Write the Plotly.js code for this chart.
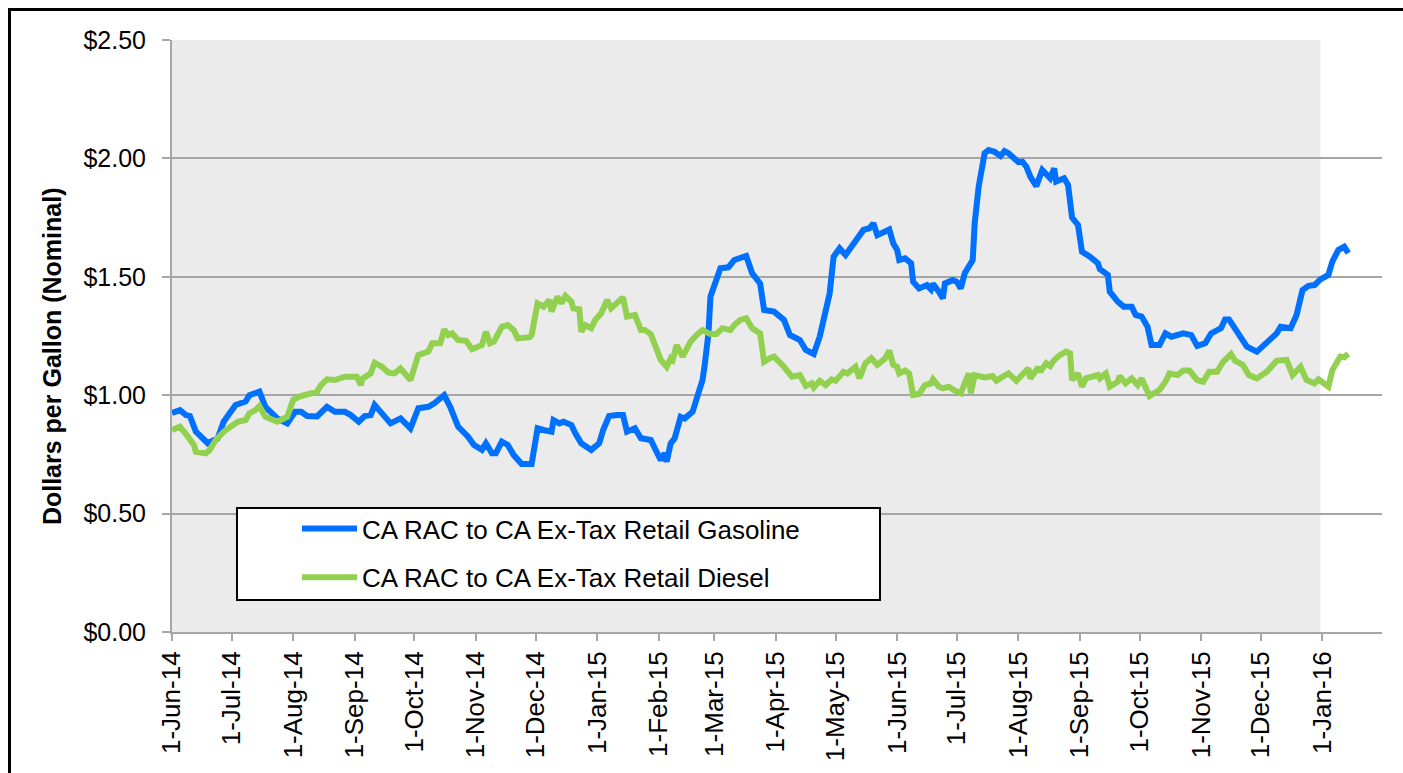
<!DOCTYPE html>
<html>
<head>
<meta charset="utf-8">
<script src="https://cdn.plot.ly/plotly-3.0.1.min.js"></script>
<style>
  body { margin: 0; background: #ffffff; }
  #frame { position: absolute; left: 8px; top: 8px; width: 1500px; height: 900px; border: 3px solid #000; }
  #chart { position: absolute; left: 0; top: 0; width: 1403px; height: 773px; }
</style>
</head>
<body>
<div id="frame"></div>
<div id="chart"></div>
<script>
// CA RAC to CA ex-tax retail margins, dollars per gallon
const gasDates = [
  "2014-06-01", "2014-06-05", "2014-06-08", "2014-06-10", "2014-06-13", "2014-06-16", "2014-06-19", "2014-06-24", "2014-06-27",
  "2014-07-03", "2014-07-08", "2014-07-10", "2014-07-15", "2014-07-18", "2014-07-21", "2014-07-24", "2014-07-29",
  "2014-08-02", "2014-08-05", "2014-08-08", "2014-08-13", "2014-08-18", "2014-08-22", "2014-08-27", "2014-08-30",
  "2014-09-03", "2014-09-06", "2014-09-09", "2014-09-11", "2014-09-14", "2014-09-19", "2014-09-24", "2014-09-29",
  "2014-10-03", "2014-10-08", "2014-10-11", "2014-10-16", "2014-10-19", "2014-10-23", "2014-10-28", "2014-10-31",
  "2014-11-04", "2014-11-06", "2014-11-09", "2014-11-11", "2014-11-14", "2014-11-17", "2014-11-20", "2014-11-24", "2014-11-29",
  "2014-12-02", "2014-12-05", "2014-12-09", "2014-12-10", "2014-12-13", "2014-12-15", "2014-12-19", "2014-12-21", "2014-12-24", "2014-12-29",
  "2015-01-02", "2015-01-04", "2015-01-07", "2015-01-11", "2015-01-14", "2015-01-16", "2015-01-20", "2015-01-23", "2015-01-28", "2015-01-30",
  "2015-02-02", "2015-02-04", "2015-02-05", "2015-02-07", "2015-02-09", "2015-02-12", "2015-02-14", "2015-02-18", "2015-02-20",
  "2015-02-23", "2015-02-24", "2015-02-26", "2015-02-27",
  "2015-03-01", "2015-03-04", "2015-03-08", "2015-03-10", "2015-03-11", "2015-03-17", "2015-03-20", "2015-03-24", "2015-03-26", "2015-03-31",
  "2015-04-02", "2015-04-05", "2015-04-08", "2015-04-13", "2015-04-16", "2015-04-20", "2015-04-23", "2015-04-26", "2015-04-28", "2015-04-30",
  "2015-05-03", "2015-05-06", "2015-05-11", "2015-05-15", "2015-05-18", "2015-05-20", "2015-05-22", "2015-05-28", "2015-05-30",
  "2015-06-01", "2015-06-02", "2015-06-05", "2015-06-08", "2015-06-09", "2015-06-12", "2015-06-16", "2015-06-18", "2015-06-19",
  "2015-06-22", "2015-06-24", "2015-06-25", "2015-06-29",
  "2015-07-01", "2015-07-03", "2015-07-05", "2015-07-09", "2015-07-10", "2015-07-12", "2015-07-15", "2015-07-17", "2015-07-20",
  "2015-07-23", "2015-07-25", "2015-07-27",
  "2015-08-01", "2015-08-03", "2015-08-05", "2015-08-07", "2015-08-10", "2015-08-13", "2015-08-17", "2015-08-19", "2015-08-20",
  "2015-08-24", "2015-08-26", "2015-08-28", "2015-08-31",
  "2015-09-02", "2015-09-06", "2015-09-10", "2015-09-11", "2015-09-15", "2015-09-16", "2015-09-20", "2015-09-23", "2015-09-27", "2015-09-29",
  "2015-10-02", "2015-10-05", "2015-10-07", "2015-10-11", "2015-10-14", "2015-10-17", "2015-10-23", "2015-10-27", "2015-10-30",
  "2015-11-03", "2015-11-06", "2015-11-11", "2015-11-13", "2015-11-15", "2015-11-19", "2015-11-24", "2015-11-29",
  "2015-12-04", "2015-12-09", "2015-12-11", "2015-12-16", "2015-12-19", "2015-12-22", "2015-12-25", "2015-12-28", "2015-12-31",
  "2016-01-04", "2016-01-06", "2016-01-09", "2016-01-12", "2016-01-14"
];
const gasValues = [
  0.925, 0.937, 0.916, 0.912, 0.846, 0.825, 0.797, 0.818, 0.888,
  0.959, 0.973, 1.000, 1.015, 0.951, 0.930, 0.902, 0.881,
  0.930, 0.930, 0.912, 0.910, 0.951, 0.930, 0.930, 0.916,
  0.888, 0.912, 0.916, 0.959, 0.930, 0.881, 0.902, 0.860,
  0.945, 0.951, 0.966, 1.000, 0.951, 0.867, 0.825, 0.790,
  0.769, 0.797, 0.755, 0.755, 0.804, 0.790, 0.747, 0.709, 0.709,
  0.860, 0.853, 0.846, 0.895, 0.881, 0.888, 0.874, 0.839, 0.797, 0.769,
  0.797, 0.853, 0.912, 0.916, 0.916, 0.846, 0.860, 0.818, 0.811, 0.776,
  0.726, 0.755, 0.719, 0.797, 0.818, 0.909, 0.902, 0.930, 0.980,
  1.064, 1.120, 1.261, 1.416,
  1.472, 1.536, 1.540, 1.557, 1.571, 1.588, 1.515, 1.472, 1.360, 1.353,
  1.339, 1.318, 1.254, 1.233, 1.191, 1.174, 1.247, 1.346, 1.430, 1.585,
  1.620, 1.592, 1.648, 1.698, 1.705, 1.726, 1.676, 1.700, 1.641,
  1.613, 1.571, 1.578, 1.557, 1.479, 1.451, 1.465, 1.447, 1.470,
  1.437, 1.409, 1.472, 1.486,
  1.479, 1.451, 1.515, 1.571, 1.726, 1.881, 2.022, 2.035, 2.028,
  2.010, 2.031, 2.022,
  1.984, 1.986, 1.965, 1.923, 1.883, 1.951, 1.916, 1.958, 1.902,
  1.916, 1.888, 1.750, 1.719,
  1.606, 1.585, 1.557, 1.532, 1.508, 1.437, 1.395, 1.374, 1.374, 1.339,
  1.332, 1.289, 1.212, 1.212, 1.261, 1.247, 1.261, 1.254, 1.208,
  1.219, 1.261, 1.283, 1.320, 1.320, 1.268, 1.205, 1.184,
  1.226, 1.261, 1.289, 1.283, 1.339, 1.444, 1.462, 1.465, 1.489,
  1.508, 1.564, 1.613, 1.627, 1.600
];

const dslDates = [
  "2014-06-01", "2014-06-05", "2014-06-09", "2014-06-12", "2014-06-13", "2014-06-18", "2014-06-20", "2014-06-23", "2014-06-27",
  "2014-07-01", "2014-07-04", "2014-07-08", "2014-07-10", "2014-07-13", "2014-07-15", "2014-07-18", "2014-07-21", "2014-07-24", "2014-07-29",
  "2014-08-01", "2014-08-04", "2014-08-07", "2014-08-09", "2014-08-13", "2014-08-15", "2014-08-18", "2014-08-22", "2014-08-27",
  "2014-09-02", "2014-09-04", "2014-09-05", "2014-09-09", "2014-09-11", "2014-09-15", "2014-09-18", "2014-09-21", "2014-09-24",
  "2014-09-28", "2014-09-29",
  "2014-10-03", "2014-10-08", "2014-10-10", "2014-10-14", "2014-10-16", "2014-10-18", "2014-10-20", "2014-10-23", "2014-10-27", "2014-10-30",
  "2014-11-04", "2014-11-06", "2014-11-08", "2014-11-10", "2014-11-14", "2014-11-17", "2014-11-20", "2014-11-22", "2014-11-28", "2014-11-29",
  "2014-12-02", "2014-12-05", "2014-12-08", "2014-12-09", "2014-12-12", "2014-12-14", "2014-12-16", "2014-12-19", "2014-12-20",
  "2014-12-23", "2014-12-24", "2014-12-26", "2014-12-29", "2014-12-31",
  "2015-01-03", "2015-01-06", "2015-01-08", "2015-01-14", "2015-01-16", "2015-01-20", "2015-01-23", "2015-01-25", "2015-01-28", "2015-01-30",
  "2015-02-02", "2015-02-05", "2015-02-07", "2015-02-08", "2015-02-10", "2015-02-13", "2015-02-17", "2015-02-20", "2015-02-23", "2015-02-27",
  "2015-03-02", "2015-03-05", "2015-03-09", "2015-03-11", "2015-03-14", "2015-03-17", "2015-03-20", "2015-03-24", "2015-03-26",
  "2015-03-29", "2015-03-31",
  "2015-04-05", "2015-04-09", "2015-04-13", "2015-04-16", "2015-04-19", "2015-04-20", "2015-04-23", "2015-04-26", "2015-04-29",
  "2015-05-01", "2015-05-05", "2015-05-07", "2015-05-11", "2015-05-13", "2015-05-16", "2015-05-19", "2015-05-22", "2015-05-26",
  "2015-05-28", "2015-05-30",
  "2015-06-01", "2015-06-02", "2015-06-05", "2015-06-07", "2015-06-09", "2015-06-12", "2015-06-15", "2015-06-18", "2015-06-19",
  "2015-06-22", "2015-06-24", "2015-06-27", "2015-06-30",
  "2015-07-03", "2015-07-07", "2015-07-08", "2015-07-10", "2015-07-15", "2015-07-19", "2015-07-21", "2015-07-24", "2015-07-27", "2015-07-31",
  "2015-08-03", "2015-08-06", "2015-08-07", "2015-08-11", "2015-08-12", "2015-08-15", "2015-08-17", "2015-08-19", "2015-08-22",
  "2015-08-25", "2015-08-27", "2015-08-28", "2015-08-31",
  "2015-09-02", "2015-09-04", "2015-09-10", "2015-09-11", "2015-09-14", "2015-09-16", "2015-09-20", "2015-09-21", "2015-09-24",
  "2015-09-27", "2015-09-30",
  "2015-10-02", "2015-10-06", "2015-10-11", "2015-10-14", "2015-10-16", "2015-10-20", "2015-10-23", "2015-10-26", "2015-10-30",
  "2015-11-02", "2015-11-05", "2015-11-09", "2015-11-12", "2015-11-16", "2015-11-18", "2015-11-22", "2015-11-25", "2015-11-29",
  "2015-12-04", "2015-12-09", "2015-12-14", "2015-12-17", "2015-12-21", "2015-12-24", "2015-12-28", "2015-12-30",
  "2016-01-04", "2016-01-06", "2016-01-10", "2016-01-12", "2016-01-14"
];
const dslValues = [
  0.853, 0.867, 0.825, 0.790, 0.761, 0.755, 0.769, 0.811, 0.846,
  0.867, 0.888, 0.895, 0.924, 0.937, 0.954, 0.909, 0.898, 0.888, 0.909,
  0.980, 0.994, 1.001, 1.008, 1.015, 1.043, 1.067, 1.064, 1.078,
  1.078, 1.043, 1.071, 1.092, 1.137, 1.118, 1.095, 1.092, 1.113,
  1.078, 1.064,
  1.170, 1.184, 1.219, 1.219, 1.278, 1.254, 1.261, 1.233, 1.230, 1.194,
  1.212, 1.268, 1.219, 1.226, 1.289, 1.296, 1.275, 1.240, 1.245, 1.254,
  1.388, 1.374, 1.402, 1.353, 1.416, 1.388, 1.419, 1.395, 1.367,
  1.363, 1.268, 1.296, 1.283, 1.318,
  1.346, 1.402, 1.367, 1.413, 1.332, 1.339, 1.275, 1.275, 1.258, 1.212,
  1.149, 1.120, 1.156, 1.149, 1.212, 1.163, 1.226, 1.254, 1.275, 1.258,
  1.258, 1.283, 1.275, 1.296, 1.318, 1.325, 1.283, 1.261, 1.141,
  1.156, 1.163,
  1.120, 1.078, 1.085, 1.039, 1.050, 1.033, 1.061, 1.043, 1.067,
  1.061, 1.099, 1.092, 1.120, 1.071, 1.135, 1.156, 1.128, 1.156,
  1.188, 1.128,
  1.120, 1.092, 1.104, 1.092, 1.001, 1.005, 1.043, 1.050, 1.067,
  1.036, 1.029, 1.036, 1.019,
  1.008, 1.092, 1.008, 1.085, 1.075, 1.081, 1.061, 1.078, 1.092, 1.061,
  1.085, 1.113, 1.071, 1.118, 1.099, 1.135, 1.123, 1.149, 1.170,
  1.184, 1.177, 1.064, 1.092,
  1.036, 1.071, 1.085, 1.071, 1.092, 1.036, 1.057, 1.081, 1.050,
  1.071, 1.043,
  1.071, 0.997, 1.022, 1.057, 1.092, 1.085, 1.104, 1.104, 1.064,
  1.057, 1.099, 1.099, 1.141, 1.174, 1.146, 1.128, 1.085, 1.071,
  1.099, 1.146, 1.149, 1.085, 1.120, 1.064, 1.050, 1.067,
  1.036, 1.106, 1.163, 1.160, 1.175
];

const seriesNames = ["CA RAC to CA Ex-Tax Retail Gasoline", "CA RAC to CA Ex-Tax Retail Diesel"];
const shadedPeriod = ["2014-06-01", "2015-12-31"];
const xRange = ["2014-06-01", "2016-01-31"];

const font = "Liberation Sans, Arial, sans-serif";
const gridGray = "#a6a6a6";

const data = [
  {
    x: gasDates, y: gasValues, name: seriesNames[0], type: "scatter", mode: "lines",
    line: { color: "#0070ff", width: 6 }, legendgroup: "g1"
  },
  {
    x: dslDates, y: dslValues, name: seriesNames[1], type: "scatter", mode: "lines",
    line: { color: "#92d050", width: 6 }, legendgroup: "g2"
  }
];

const layout = {
  width: 1403,
  height: 773,
  margin: { l: 172, r: 21, t: 40, b: 141 },
  paper_bgcolor: "rgba(0,0,0,0)",
  plot_bgcolor: "#ffffff",
  font: { family: font, color: "#000" },
  showlegend: true,
  legend: {
    x: 0.1033, xanchor: "left", y: 0.2145, yanchor: "top",
    bgcolor: "rgba(0,0,0,0)", borderwidth: 0,
    font: { size: 26, family: font, color: "#000" },
    itemwidth: 55, tracegroupgap: 12
  },
  xaxis: {
    type: "date",
    range: xRange,
    tick0: "2014-06-01",
    dtick: "M1",
    tickformat: "%-d-%b-%y",
    tickangle: -90,
    ticks: "outside", ticklen: 7, tickwidth: 2, tickcolor: gridGray,
    showline: true, linecolor: gridGray, linewidth: 2,
    showgrid: false, zeroline: false,
    tickfont: { size: 26, family: font, color: "#000" }
  },
  yaxis: {
    range: [0, 2.5],
    dtick: 0.5,
    tickprefix: "$",
    tickformat: ".2f",
    ticks: "outside", ticklen: 8, tickwidth: 2, tickcolor: gridGray,
    ticklabelstandoff: 11,
    showline: true, linecolor: gridGray, linewidth: 2,
    showgrid: true, gridcolor: gridGray, gridwidth: 2,
    zeroline: false,
    tickfont: { size: 25, family: font, color: "#000" }
  },
  shapes: [
    {
      type: "rect", layer: "below", xref: "x", yref: "y",
      x0: shadedPeriod[0], x1: shadedPeriod[1], y0: 0, y1: 2.5,
      fillcolor: "#ebebeb", line: { width: 0 }
    },
    {
      // legend frame (the legend itself is drawn on top of it)
      type: "rect", layer: "above", xref: "paper", yref: "paper",
      x0: 0.0537, x1: 0.5851, y0: 0.0541, y1: 0.2095,
      fillcolor: "#ffffff", line: { color: "#000", width: 2 }
    }
  ],
  annotations: [
    {
      text: "<b>Dollars per Gallon (Nominal)</b>",
      xref: "paper", yref: "paper", x: -0.0992, y: 0.466,
      xanchor: "center", yanchor: "middle", textangle: -90, showarrow: false,
      font: { size: 25, family: font, color: "#000" }
    }
  ]
};

Plotly.newPlot("chart", data, layout, { displayModeBar: false, staticPlot: true });
</script>
</body>
</html>
